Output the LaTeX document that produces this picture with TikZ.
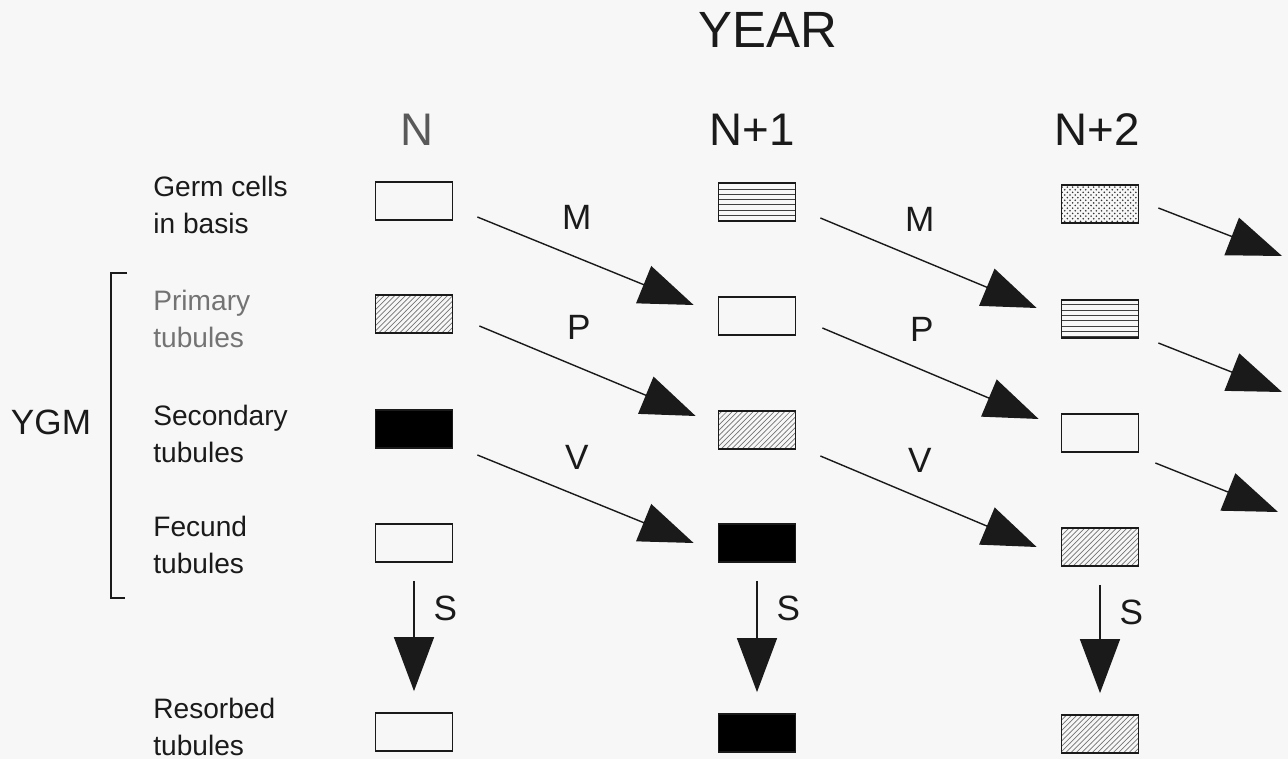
\documentclass[tikz,border=0pt]{standalone}
\usepackage{fontspec}
\setmainfont{Liberation Sans}
\usetikzlibrary{calc}
\usetikzlibrary{patterns}
\usetikzlibrary{arrows.meta}

\definecolor{paper}{HTML}{F7F7F7}
\definecolor{ink}{HTML}{1A1A1A}

\tikzset{
  cellbox/.style={draw=ink, line width=1pt, minimum width=1.54cm, minimum height=0.76cm, inner sep=0pt},
  hatchbox/.style={cellbox, pattern=north east lines, pattern color=black!55},
  stripebox/.style={cellbox, pattern=horizontal lines, pattern color=black!75},
  dotbox/.style={cellbox, pattern=crosshatch dots, pattern color=black!80},
  darkbox/.style={cellbox, fill=black},
  rowlbl/.style={anchor=west, align=left, inner sep=0pt, text=ink, font=\fontsize{16}{21}\selectfont},
  yearlbl/.style={text=ink, font=\fontsize{26}{30}\selectfont},
  flow/.style={->, line width=0.8pt, draw=ink},
  flowlbl/.style={inner sep=0pt, text=ink, font=\fontsize{20}{24}\selectfont},
}

\begin{document}
\begin{tikzpicture}[x=0.02cm,y=-0.02cm,>={Triangle[length=1.08cm,width=0.8cm]}]
    \fill[paper] (0,0) rectangle (1288,759);
    \useasboundingbox (0,0) rectangle (1288,759);
    %
    \node[text=ink, font=\fontsize{29}{34}\selectfont] (year) at (768,30) {YEAR};
    \node[yearlbl, text=black!65] (y0) at (417,130) {N};
    \node[yearlbl] (y1) at (752,130) {N+1};
    \node[yearlbl] (y2) at (1097,130) {N+2};
    %
    \node[rowlbl] (tg) at (153,205) {Germ cells\\in basis};
    \node[rowlbl, text=black!55] (tp) at (153,319) {Primary\\tubules};
    \node[rowlbl] (ts) at (153,434) {Secondary\\tubules};
    \node[rowlbl] (tf) at (153,545) {Fecund\\tubules};
    \node[rowlbl] (tr) at (153,727) {Resorbed\\tubules};
    \node[text=ink, inner sep=0pt, font=\fontsize{20}{24}\selectfont] (ygm) at (51,422) {YGM};
    \draw[ink, line width=0.9pt] (127,273) -- (111,273) -- (111,598) -- (125,598);
    %
    \node[cellbox]   (g0) at (414,201) {};
    \node[hatchbox]  (p0) at (414,314) {};
    \node[darkbox]   (s0) at (414,429) {};
    \node[cellbox]   (f0) at (414,543) {};
    \node[cellbox]   (r0) at (414,732) {};
    %
    \node[stripebox] (g1) at (757,202) {};
    \node[cellbox]   (p1) at (757,316) {};
    \node[hatchbox]  (s1) at (757,430) {};
    \node[darkbox]   (f1) at (757,543) {};
    \node[darkbox]   (r1) at (757,733) {};
    %
    \node[dotbox]    (g2) at (1100,204) {};
    \node[stripebox] (p2) at (1100,319) {};
    \node[cellbox]   (s2) at (1100,433) {};
    \node[hatchbox]  (f2) at (1100,547) {};
    \node[hatchbox]  (r2) at (1100,734) {};
    %
    \draw[flow] ($(g0.east)+(24,16)$) -- node[flowlbl, pos=0.46, above=0.55cm] {M} ($(p1.west)+(-24,-11)$);
    \draw[flow] ($(p0.east)+(26,12)$) -- node[flowlbl, pos=0.46, above=0.55cm] {P} ($(s1.west)+(-22,-14)$);
    \draw[flow] ($(s0.east)+(24,26)$) -- node[flowlbl, pos=0.46, above=0.5cm] {V} ($(f1.west)+(-24,0)$);
    \draw[flow] ($(g1.east)+(24,16)$) -- node[flowlbl, pos=0.46, above=0.55cm] {M} ($(p2.west)+(-24,-11)$);
    \draw[flow] ($(p1.east)+(26,12)$) -- node[flowlbl, pos=0.46, above=0.55cm] {P} ($(s2.west)+(-22,-14)$);
    \draw[flow] ($(s1.east)+(24,26)$) -- node[flowlbl, pos=0.46, above=0.5cm] {V} ($(f2.west)+(-24,0)$);
    %
    \coordinate (o0) at (1282,256);
    \coordinate (o1) at (1282,392);
    \coordinate (o2) at (1278,512);
    \draw[flow] ($(g2.east)+(19,4)$) -- (o0);
    \draw[flow] ($(p2.east)+(19,24)$) -- (o1);
    \draw[flow] ($(s2.east)+(16,30)$) -- (o2);
    %
    \draw[flow] ($(f0.south)+(0,18)$) -- node[flowlbl, pos=0.25, right=0.38cm] {S} ($(r0.north)+(0,-21)$);
    \draw[flow] ($(f1.south)+(0,18)$) -- node[flowlbl, pos=0.25, right=0.38cm] {S} ($(r1.north)+(0,-21)$);
    \draw[flow] ($(f2.south)+(0,18)$) -- node[flowlbl, pos=0.25, right=0.38cm] {S} ($(r2.north)+(0,-21)$);
\end{tikzpicture}
\end{document}
